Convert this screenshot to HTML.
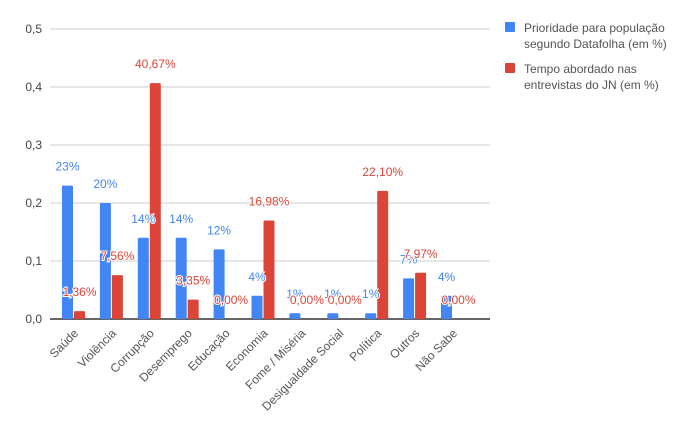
<!DOCTYPE html>
<html><head><meta charset="utf-8"><style>
body{margin:0;background:#fff;font-family:"Liberation Sans",Arial,sans-serif}
</style></head><body>
<svg id="c" width="696" height="430" xmlns="http://www.w3.org/2000/svg" font-family="Liberation Sans, Arial, sans-serif"></svg>
<script>
const categories=["Saúde","Violência","Corrupção","Desemprego","Educação","Economia","Fome / Miséria","Desigualdade Social","Política","Outros","Não Sabe"];
const blueValues=[0.23,0.20,0.14,0.14,0.12,0.04,0.01,0.01,0.01,0.07,0.04];
const blueLabels=["23%","20%","14%","14%","12%","4%","1%","1%","1%","7%","4%"];
const redValues=[0.0136,0.0756,0.4067,0.0335,0,0.1698,0,0,0.221,0.0797,0];
const redLabels=["1,36%","7,56%","40,67%","3,35%","0,00%","16,98%","0,00%","0,00%","22,10%","7,97%","0,00%"];
const yTicks=[0,0.1,0.2,0.3,0.4,0.5];
const yTickLabels=["0,0","0,1","0,2","0,3","0,4","0,5"];
const svg=document.getElementById('c');const NS="http://www.w3.org/2000/svg";
function mk(t,a,txt){const e=document.createElementNS(NS,t);for(const k in a)e.setAttribute(k,a[k]);if(txt!=null)e.textContent=txt;svg.appendChild(e);return e;}
const y=v=>319-v*580;
const x0=v=>62+v*37.9;
yTicks.forEach((t,i)=>{
 const g=mk('line',{x1:50,x2:490,y1:y(t),y2:y(t),stroke:i==0?'#333':'#ccc','stroke-width':i==0?1.5:1});
 
 const l=mk('text',{x:42,y:y(t)+4,'text-anchor':'end','font-size':12,fill:'#444'},yTickLabels[i]);
 
});
categories.forEach((c,i)=>{
 const bx=x0(i);
 const b=mk('rect',{x:bx,y:y(blueValues[i]),width:11,height:319-y(blueValues[i]),fill:'#4285f4',rx:1});
 
 const r=mk('rect',{x:bx+12,y:y(redValues[i]),width:11,height:319-y(redValues[i]),fill:'#db4437',rx:1});
 
 const bl=mk('text',{x:bx+5.5,y:y(blueValues[i])-15,'text-anchor':'middle','font-size':12,fill:'#4285f4',stroke:'#fff','stroke-width':2,'paint-order':'stroke'},blueLabels[i]);
 
 const rl=mk('text',{x:bx+17.5,y:y(redValues[i])-15,'text-anchor':'middle','font-size':12,fill:'#db4437',stroke:'#fff','stroke-width':2,'paint-order':'stroke'},redLabels[i]);
 
 const cx=bx+17,cy=334;
 const t=mk('text',{x:cx,y:cy,'text-anchor':'end','font-size':12,fill:'#555',transform:`rotate(-45 ${cx} ${cy})`},c);
 
});
const legend=[["#4285f4","Prioridade para população","segundo Datafolha (em %)",21],["#db4437","Tempo abordado nas","entrevistas do JN (em %)",62]];
legend.forEach(l=>{
 const s=mk('rect',{x:505,y:l[3]+1,width:10,height:10,fill:l[0],rx:1});
 
 const t1=mk('text',{x:524,y:l[3]+11,'font-size':12,fill:'#555'},l[1]);
 
 const t2=mk('text',{x:524,y:l[3]+27,'font-size':12,fill:'#555'},l[2]);
 
});
</script>
</body></html>
